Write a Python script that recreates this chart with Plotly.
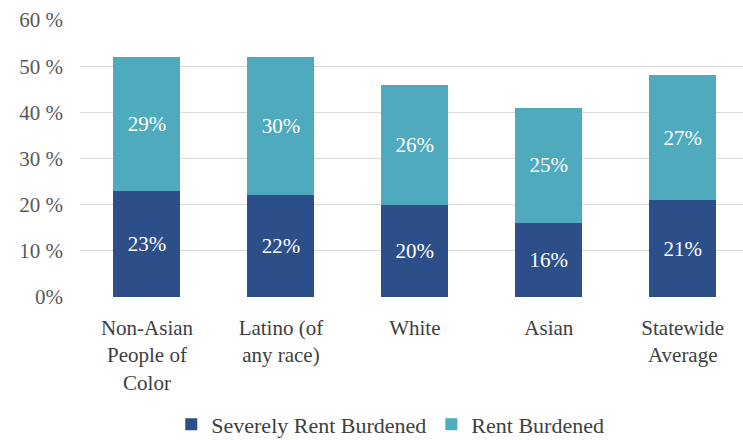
import plotly.graph_objects as go

categories = ["Non-Asian<br>People of<br>Color", "Latino (of<br>any race)", "White", "Asian", "Statewide<br>Average"]
severely_rent_burdened = [23, 22, 20, 16, 21]
rent_burdened = [29, 30, 26, 25, 27]
tick_vals = [0, 10, 20, 30, 40, 50, 60]
tick_text = ["0%", "10 %", "20 %", "30 %", "40 %", "50 %", "60 %"]

serif = "Liberation Serif, Times New Roman, serif"

fig = go.Figure()
fig.add_trace(go.Bar(
    x=list(range(len(categories))), y=severely_rent_burdened,
    name="Severely Rent Burdened",
    marker=dict(color="#2C4F8A", line=dict(width=0)),
    text=[f"{v}%" for v in severely_rent_burdened],
    textposition="inside", insidetextanchor="middle",
    textfont=dict(family=serif, size=21, color="white"),
))
fig.add_trace(go.Bar(
    x=list(range(len(categories))), y=rent_burdened,
    name="Rent Burdened",
    marker=dict(color="#4FAABD", line=dict(width=0)),
    text=[f"{v}%" for v in rent_burdened],
    textposition="inside", insidetextanchor="middle",
    textfont=dict(family=serif, size=21, color="white"),
))

fig.update_layout(
    width=743, height=440,
    barmode="stack", bargap=0.5,
    margin=dict(l=80, r=0, t=20, b=143, autoexpand=False),
    plot_bgcolor="white", paper_bgcolor="white",
    font=dict(family=serif, size=20, color="#404040"),
    uniformtext=dict(mode="show", minsize=10),
    xaxis=dict(
        tickmode="array", tickvals=list(range(len(categories))), ticktext=categories,
        range=[-0.5, 4.45], showgrid=False, zeroline=False, showline=False,
        ticks="", ticklabelstandoff=16, automargin=False,
        tickfont=dict(family=serif, size=21, color="#404040"),
    ),
    yaxis=dict(
        range=[0, 60], tickmode="array", tickvals=tick_vals, ticktext=tick_text,
        showgrid=True, gridcolor="#D9D9D9", gridwidth=1, zeroline=False,
        showline=False, ticks="", ticklabelstandoff=16, automargin=False,
        tickfont=dict(family=serif, size=21, color="#595959"),
    ),
    showlegend=True,
    legend=dict(
        orientation="h", x=0.468, xanchor="center", y=-0.46, yanchor="middle",
        font=dict(family=serif, size=22, color="#404040"),
        itemwidth=30, traceorder="normal",
    ),
)

fig.write_html("out.html")
